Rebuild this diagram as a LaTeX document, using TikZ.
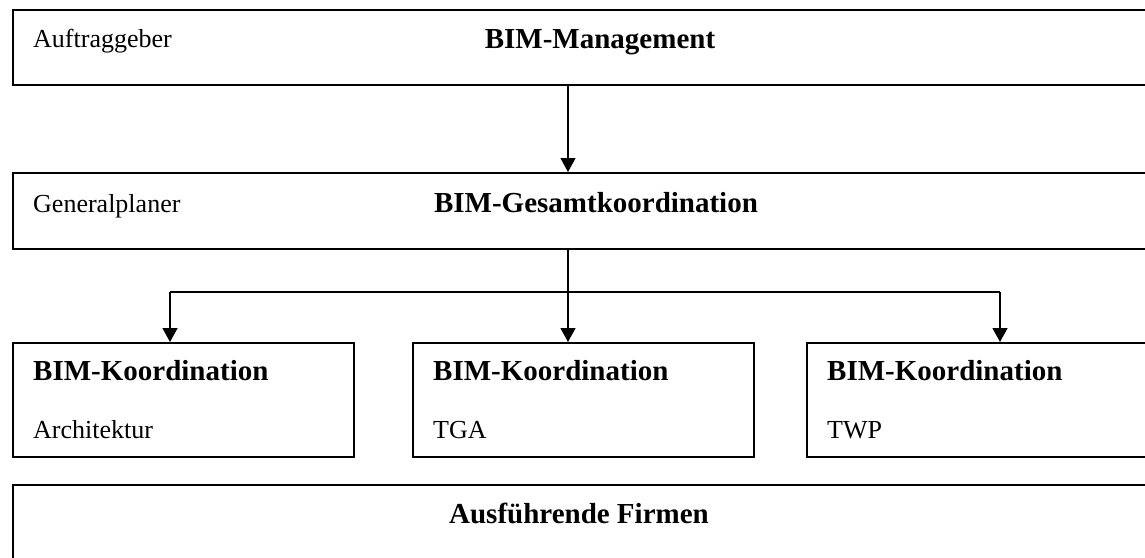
\documentclass[tikz,border=0pt]{standalone}
\usepackage{fontspec}
\setmainfont{Liberation Serif}
\usetikzlibrary{arrows.meta}
\begin{document}
\begin{tikzpicture}[x=1pt,y=1pt,
  box/.style={draw, line width=1.5pt, rectangle, inner sep=0pt, anchor=north west},
  plain/.style={anchor=base west, inner sep=0pt, font=\fontsize{26}{30}\selectfont},
  head/.style={anchor=base, inner sep=0pt, font=\fontsize{29}{34}\selectfont\bfseries},
  headw/.style={anchor=base west, inner sep=0pt, font=\fontsize{29}{34}\selectfont\bfseries},
  link/.style={line width=1.3pt, -{Triangle[length=14pt,width=15pt]}},
  wire/.style={line width=1.3pt}]
\useasboundingbox (0,0) rectangle (1145,-557);
\clip (0,0) rectangle (1145,-557);
\fill[white] (0,0) rectangle (1145,-557);

% boxes (right edges run past the page)
\node[box, minimum width=1150pt, minimum height=75pt] (mgmt) at (12,-9) {};
\node[box, minimum width=1150pt, minimum height=76pt] (gesamt) at (12,-172) {};
\node[box, minimum width=341pt, minimum height=114pt] (arch) at (12,-342) {};
\node[box, minimum width=341pt, minimum height=114pt] (tga) at (412,-342) {};
\node[box, minimum width=341pt, minimum height=114pt] (twp) at (806,-342) {};
\node[box, minimum width=1150pt, minimum height=100pt] (firmen) at (12,-484) {};

% texts
\node[plain] (auftr) at (33,-47) {Auftraggeber};
\node[head] (mgmtT) at (600,-48) {BIM-Management};
\node[plain] (gp) at (33,-212) {Generalplaner};
\node[head] (gesamtT) at (596,-212) {BIM-Gesamtkoordination};
\node[headw] (archT) at (33,-380) {BIM-Koordination};
\node[headw] (tgaT) at (433,-380) {BIM-Koordination};
\node[headw] (twpT) at (827,-380) {BIM-Koordination};
\node[plain] (archS) at (33,-438) {Architektur};
\node[plain] (tgaS) at (433,-438) {TGA};
\node[plain] (twpS) at (827,-438) {TWP};
\node[head] (firmenT) at (579,-523) {Ausführende Firmen};

% connectors
\coordinate (trunk) at (568,-292);
\coordinate (la) at (170,-292);
\coordinate (lc) at (1000,-292);
\draw[link] (mgmt.south -| trunk) -- (gesamt.north -| trunk);
\draw[link] (gesamt.south -| trunk) -- (tga.north -| trunk);
\draw[wire] (la) -- (lc);
\draw[link] (la) -- (arch.north -| la);
\draw[link] (lc) -- (twp.north -| lc);
\end{tikzpicture}
\end{document}
